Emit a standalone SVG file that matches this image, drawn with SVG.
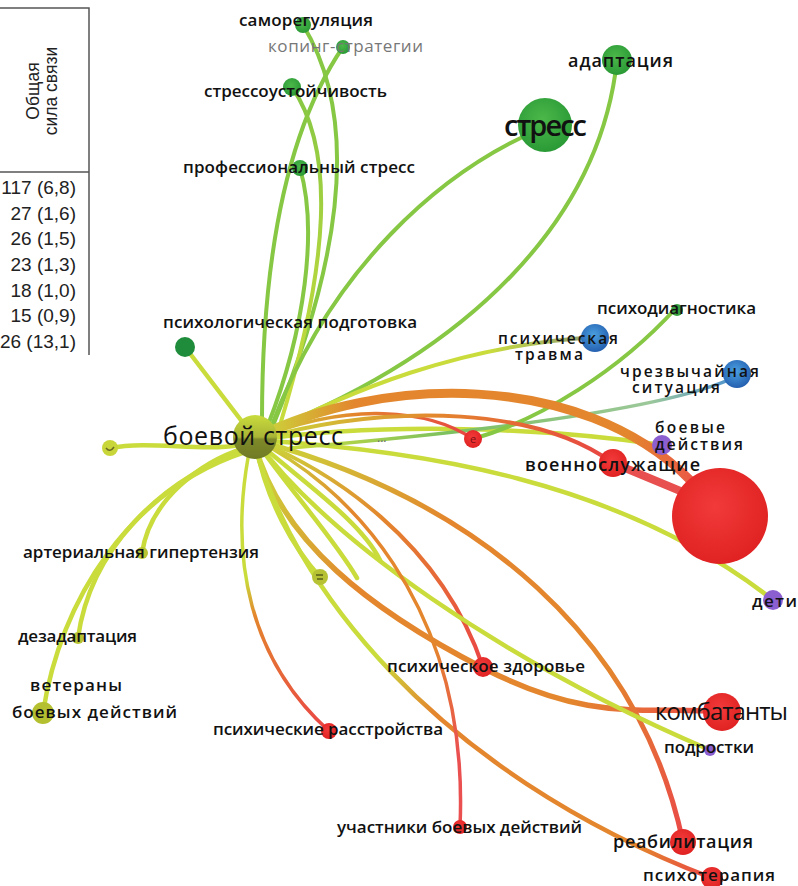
<svg xmlns="http://www.w3.org/2000/svg" width="798" height="886" viewBox="0 0 798 886">
<defs>
<style>
.tbl{font-family:"Liberation Sans",Arial,sans-serif;font-size:19px;fill:#222}
.hd{font-size:17.5px;text-anchor:middle}
.lbl{font-family:"Open Sans","Noto Sans",sans-serif;font-size:17px;font-weight:600;fill:#111;text-anchor:middle}
.sm{font-size:15.5px}
.frame{stroke:#555;stroke-width:1.5;fill:none}
.e{fill:none;stroke-linecap:round}
.g{stroke:#86c744;stroke-width:4}
.y{stroke:#c9dc3c;stroke-width:4.5}
</style>
<linearGradient id="gRed1" gradientUnits="userSpaceOnUse" x1="255" y1="440" x2="473" y2="439"><stop offset="0" stop-color="#c9dc3c"/><stop offset="0.45" stop-color="#e3862d"/><stop offset="1" stop-color="#e84343"/></linearGradient>
<linearGradient id="gVoen" gradientUnits="userSpaceOnUse" x1="255" y1="440" x2="613" y2="463"><stop offset="0" stop-color="#c9dc3c"/><stop offset="0.5" stop-color="#e3862d"/><stop offset="1" stop-color="#e84343"/></linearGradient>
<linearGradient id="gArc" gradientUnits="userSpaceOnUse" x1="255" y1="440" x2="690" y2="480"><stop offset="0" stop-color="#c9dc3c"/><stop offset="0.22" stop-color="#e3862d"/><stop offset="0.85" stop-color="#e3862d"/><stop offset="1" stop-color="#ea5b45"/></linearGradient>
<linearGradient id="gKomb" gradientUnits="userSpaceOnUse" x1="255" y1="440" x2="722" y2="712"><stop offset="0" stop-color="#c9dc3c"/><stop offset="0.3" stop-color="#e3862d"/><stop offset="0.75" stop-color="#e3862d"/><stop offset="1" stop-color="#ee4a4a"/></linearGradient>
<linearGradient id="gZdor" gradientUnits="userSpaceOnUse" x1="255" y1="440" x2="483" y2="667"><stop offset="0" stop-color="#c9dc3c"/><stop offset="0.45" stop-color="#e3862d"/><stop offset="1" stop-color="#ea4545"/></linearGradient>
<linearGradient id="gReab" gradientUnits="userSpaceOnUse" x1="255" y1="440" x2="683" y2="842"><stop offset="0" stop-color="#c9dc3c"/><stop offset="0.33" stop-color="#e3862d"/><stop offset="0.7" stop-color="#e3862d"/><stop offset="1" stop-color="#ea4848"/></linearGradient>
<linearGradient id="gPsyt" gradientUnits="userSpaceOnUse" x1="255" y1="440" x2="712" y2="878"><stop offset="0" stop-color="#c9dc3c"/><stop offset="0.38" stop-color="#c9dc3c"/><stop offset="0.5" stop-color="#e3862d"/><stop offset="0.88" stop-color="#e3862d"/><stop offset="1" stop-color="#ea4545"/></linearGradient>
<linearGradient id="gUch" gradientUnits="userSpaceOnUse" x1="255" y1="440" x2="460" y2="827"><stop offset="0" stop-color="#c9dc3c"/><stop offset="0.25" stop-color="#e3862d"/><stop offset="0.6" stop-color="#e3862d"/><stop offset="0.85" stop-color="#ea5050"/></linearGradient>
<linearGradient id="gRas" gradientUnits="userSpaceOnUse" x1="250" y1="450" x2="329" y2="731"><stop offset="0" stop-color="#c9dc3c"/><stop offset="0.42" stop-color="#c9dc3c"/><stop offset="0.55" stop-color="#e3862d"/><stop offset="1" stop-color="#ea4545"/></linearGradient>
<linearGradient id="gTrav" gradientUnits="userSpaceOnUse" x1="255" y1="440" x2="597" y2="337"><stop offset="0" stop-color="#c9dc3c"/><stop offset="0.7" stop-color="#c9dc3c"/><stop offset="1" stop-color="#8a9a7a"/></linearGradient>
<linearGradient id="gChs" gradientUnits="userSpaceOnUse" x1="290" y1="448" x2="737" y2="376"><stop offset="0" stop-color="#c9dc3c"/><stop offset="0.35" stop-color="#7cc060"/><stop offset="0.8" stop-color="#9cc89a"/><stop offset="1" stop-color="#4a90d0"/></linearGradient>
<linearGradient id="gStr" gradientUnits="userSpaceOnUse" x1="292" y1="87" x2="280" y2="425"><stop offset="0" stop-color="#86c744"/><stop offset="0.6" stop-color="#b3d63e"/><stop offset="1" stop-color="#c9dc3c"/></linearGradient>
<linearGradient id="bsNode" x1="0" y1="0" x2="0" y2="1"><stop offset="0" stop-color="#c9dc3c"/><stop offset="0.5" stop-color="#a9b436"/><stop offset="0.55" stop-color="#7f8a2a"/><stop offset="1" stop-color="#6f7a24"/></linearGradient>
<radialGradient id="rGreen" cx="0.45" cy="0.4" r="0.6"><stop offset="0" stop-color="#4cb84a"/><stop offset="1" stop-color="#2a9a36"/></radialGradient>
<radialGradient id="rBlue" cx="0.45" cy="0.4" r="0.6"><stop offset="0" stop-color="#4aa0e0"/><stop offset="1" stop-color="#2560b0"/></radialGradient>
<radialGradient id="rRed" cx="0.45" cy="0.4" r="0.6"><stop offset="0" stop-color="#f23a3a"/><stop offset="1" stop-color="#e02222"/></radialGradient>
</defs>
<rect width="798" height="886" fill="#ffffff"/>

<g id="table">
<path class="frame" d="M0,8 H89 V355 M0,172 H89"/>
<text class="tbl hd" transform="translate(39,91) rotate(-90)">Общая</text>
<text class="tbl hd" transform="translate(57,91) rotate(-90)">сила связи</text>
<text class="tbl" x="76" y="194" text-anchor="end">117 (6,8)</text>
<text class="tbl" x="76" y="220" text-anchor="end">27 (1,6)</text>
<text class="tbl" x="76" y="245" text-anchor="end">26 (1,5)</text>
<text class="tbl" x="76" y="271" text-anchor="end">23 (1,3)</text>
<text class="tbl" x="76" y="297" text-anchor="end">18 (1,0)</text>
<text class="tbl" x="76" y="322" text-anchor="end">15 (0,9)</text>
<text class="tbl" x="76" y="348" text-anchor="end">26 (13,1)</text>
</g>

<g id="connectors">
<path class="e g" d="M303,25 C355,110 350,240 272,428"/>
<path class="e g" d="M343,47 C300,110 262,220 262,420"/>
<path class="e" stroke="url(#gStr)" stroke-width="4" d="M292,87 C335,150 330,260 280,425"/>
<path class="e g" d="M300,168 C318,230 305,330 268,425"/>
<path class="e g" d="M545,127 C440,170 330,270 272,425"/>
<path class="e g" stroke-width="5" d="M617,60 C600,220 470,350 270,430"/>
<path class="e y" d="M185,347 L250,432"/>
<path class="e" stroke="url(#gTrav)" stroke-width="4" d="M255,440 C350,390 460,345 597,337"/>
<path class="e y" d="M255,440 C400,420 560,430 662,445"/>
<path class="e y" d="M255,440 C420,450 620,480 773,600"/>
<path class="e" stroke="url(#gChs)" stroke-width="3.5" d="M290,448 C560,425 690,400 737,376"/>
<path class="e g" stroke-width="3" d="M676,308 C620,370 540,420 473,439"/>
<path class="e" stroke="url(#gRed1)" stroke-width="3.5" d="M255,440 C350,400 430,410 473,439"/>
<path class="e" stroke="url(#gArc)" stroke-width="9" d="M255,438 C380,375 580,370 690,480"/>
<path class="e" stroke="url(#gVoen)" stroke-width="4" d="M255,440 C400,400 540,410 613,463"/>
<path class="e" stroke="#e85050" stroke-width="8" d="M613,463 L690,495"/>
<path class="e" stroke="url(#gKomb)" stroke-width="5.5" d="M255,445 C280,540 370,610 483,668 S650,705 722,712"/>
<path class="e" stroke="url(#gZdor)" stroke-width="4" d="M255,440 C330,470 440,540 483,667"/>
<path class="e" stroke="url(#gReab)" stroke-width="5" d="M255,440 C480,500 640,640 683,842"/>
<path class="e y" stroke-width="3" d="M255,440 C330,540 500,660 710,750"/>
<path class="e" stroke="url(#gPsyt)" stroke-width="4.5" d="M255,445 C290,580 430,770 712,878"/>
<path class="e" stroke="url(#gUch)" stroke-width="3.5" d="M255,440 C340,480 470,600 460,827"/>
<path class="e" stroke="url(#gRas)" stroke-width="3.5" d="M248,458 C230,560 250,660 329,731"/>
<path class="e y" d="M255,440 C265,500 295,550 320,577"/>
<path class="e y" d="M255,440 C290,490 335,540 357,578"/>
<path class="e y" d="M255,440 C300,480 360,520 380,560"/>
<path class="e y" d="M110,448 C150,440 200,452 240,445"/>
<path class="e y" d="M142,553 C150,500 200,462 245,448"/>
<path class="e y" d="M78,638 C90,550 160,480 245,450"/>
<path class="e y" stroke-width="5" d="M43,713 C60,600 130,490 245,452"/>
</g>

<g id="n-samoreg"><circle cx="303" cy="25" r="8" fill="url(#rGreen)"/><text class="lbl" x="306" y="26" textLength="134">саморегуляция</text></g>
<g id="n-koping"><circle cx="343" cy="47" r="7" fill="url(#rGreen)"/><text class="lbl" x="345.5" y="52" textLength="155" style="fill:#777;font-weight:400">копинг-стратегии</text></g>
<g id="n-stressoust"><circle cx="292" cy="87" r="9" fill="url(#rGreen)"/><text class="lbl" x="295.5" y="97" textLength="183">стрессоустойчивость</text></g>
<g id="n-prof"><circle cx="300" cy="168" r="8" fill="url(#rGreen)"/><text class="lbl" x="299" y="173" textLength="232">профессиональный стресс</text></g>
<g id="n-adapt"><circle cx="617" cy="60" r="15" fill="url(#rGreen)"/><text class="lbl" x="620.5" y="67" textLength="105" style="font-size:18px">адаптация</text></g>
<g id="n-stress"><circle cx="545" cy="125" r="27" fill="url(#rGreen)"/><text class="lbl" x="545.5" y="136" textLength="83" style="font-size:29px">стресс</text></g>
<g id="n-podg"><circle cx="185" cy="347" r="10" fill="#1f8c3c"/><text class="lbl" x="290" y="328" textLength="254">психологическая подготовка</text></g>
<g id="n-diag"><circle cx="677" cy="310" r="6" fill="#3aa040"/><text class="lbl" x="676.5" y="314" textLength="159">психодиагностика</text></g>
<g id="n-travma"><circle cx="595" cy="338" r="14" fill="url(#rBlue)"/><text class="lbl sm" x="558" y="344" textLength="120">психическая</text><text class="lbl sm" x="549" y="360" textLength="68">травма</text></g>
<g id="n-chs"><circle cx="737" cy="374" r="14" fill="url(#rBlue)"/><text class="lbl sm" x="689.5" y="377" textLength="139">чрезвычайная</text><text class="lbl sm" x="676" y="393" textLength="88">ситуация</text></g>
<g id="n-boevd"><circle cx="662" cy="445" r="10" fill="#8b5fd0"/><text class="lbl sm" x="690" y="433" textLength="70">боевые</text><text class="lbl sm" x="699" y="450" textLength="88">действия</text></g>
<g id="n-voen"><circle cx="613" cy="463" r="14" fill="url(#rRed)"/><text class="lbl" x="612.5" y="471" textLength="175" style="font-size:18px">военнослужащие</text></g>
<g id="n-big"><circle cx="720" cy="516" r="48" fill="url(#rRed)"/></g>
<g id="n-deti"><circle cx="773" cy="600" r="10" fill="#8b5fd0"/><text class="lbl" x="774.5" y="607" textLength="45">дети</text></g>
<g id="n-red"><circle cx="473" cy="439" r="9" fill="url(#rRed)"/><text x="473" y="443" text-anchor="middle" font-family="Open Sans,sans-serif" font-size="11" fill="#7a1010">е</text></g>
<g id="n-boevstress"><circle cx="255" cy="437" r="22" fill="url(#bsNode)"/><text class="lbl" x="253" y="445" textLength="180" style="font-size:25px;font-weight:400">боевой стресс</text><text x="377" y="442" font-family="Open Sans,sans-serif" font-size="12" fill="#666">...</text></g>
<g id="n-u1"><circle cx="110" cy="448" r="8" fill="#c9d63a"/><path d="M106,448 q4,5 8,-1" stroke="#6a6a20" stroke-width="1.5" fill="none"/></g>
<g id="n-arter"><circle cx="142" cy="553" r="6" fill="#b8c434"/><text class="lbl" x="141" y="558" textLength="236">артериальная гипертензия</text></g>
<g id="n-u2"><circle cx="320" cy="577" r="8" fill="#b6c234"/><path d="M316,575 h7 M317,579 h6" stroke="#5a6018" stroke-width="1.5"/></g>
<g id="n-dezad"><circle cx="78" cy="638" r="6" fill="#b8c434"/><text class="lbl" x="77.5" y="642" textLength="119">дезадаптация</text></g>
<g id="n-veter"><circle cx="43" cy="713" r="11" fill="#b4c030"/><text class="lbl" x="76" y="691" textLength="92">ветераны</text><text class="lbl" x="94.5" y="718" textLength="165">боевых действий</text></g>
<g id="n-zdor"><circle cx="483" cy="667" r="10" fill="url(#rRed)"/><text class="lbl" x="486" y="672" textLength="198">психическое здоровье</text></g>
<g id="n-rasstr"><circle cx="329" cy="731" r="8" fill="url(#rRed)"/><text class="lbl" x="328" y="735" textLength="230">психические расстройства</text></g>
<g id="n-uchast"><circle cx="460" cy="827" r="7" fill="url(#rRed)"/><text class="lbl" x="459.5" y="833" textLength="245">участники боевых действий</text></g>
<g id="n-komb"><circle cx="722" cy="712" r="19" fill="url(#rRed)"/><text class="lbl" x="721.5" y="720" textLength="133" style="font-size:24px;font-weight:400">комбатанты</text></g>
<g id="n-podr"><circle cx="710" cy="750" r="6" fill="#8b5fd0"/><text class="lbl" x="709" y="753" textLength="90">подростки</text></g>
<g id="n-reab"><circle cx="683" cy="842" r="13" fill="url(#rRed)"/><text class="lbl" x="683" y="848" textLength="140" style="font-size:18px">реабилитация</text></g>
<g id="n-psyt"><circle cx="712" cy="878" r="11" fill="url(#rRed)"/><text class="lbl" x="709" y="881" textLength="132">психотерапия</text></g>
</svg>
